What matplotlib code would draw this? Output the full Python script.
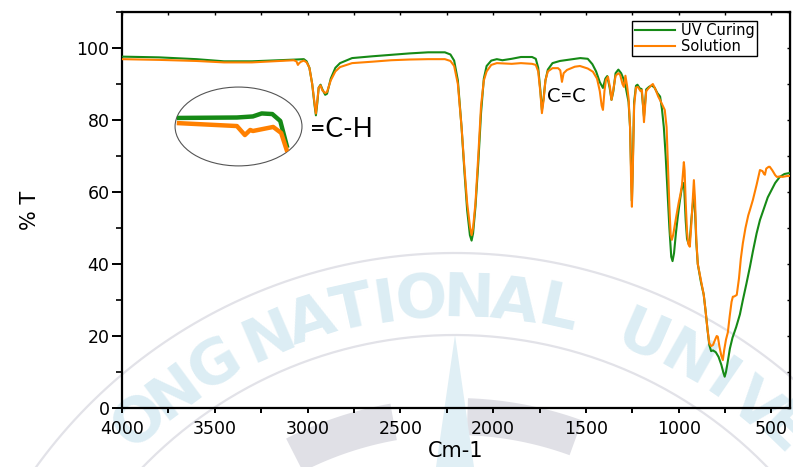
import numpy as np
import matplotlib
matplotlib.use("Agg")
import matplotlib.pyplot as plt
from matplotlib.patches import Ellipse, Polygon
from matplotlib.ticker import MultipleLocator

# ----------------------------------------------------------
# FTIR spectra (%T vs wavenumber)
# ----------------------------------------------------------

wn_uv = [4000, 3800, 3600, 3450, 3300, 3150, 3060, 3020, 3005, 2990, 2975, 2962,
         2955, 2948, 2940, 2930, 2920, 2905, 2895, 2875, 2850, 2825, 2760, 2650,
         2550, 2450, 2350, 2260, 2230, 2210, 2190, 2170, 2155, 2140, 2125, 2116,
         2108, 2095, 2080, 2065, 2050, 2035, 2010, 1980, 1950, 1900, 1850, 1790,
         1770, 1757, 1745, 1737, 1728, 1718, 1705, 1680, 1640, 1600, 1530, 1490,
         1465, 1445, 1425, 1408, 1395, 1385, 1372, 1362, 1352, 1340, 1325, 1310,
         1298, 1285, 1270, 1262, 1256, 1252, 1248, 1240, 1230, 1222, 1210, 1200,
         1192, 1187, 1182, 1175, 1160, 1145, 1130, 1115, 1100, 1090, 1080, 1070,
         1060, 1050, 1040, 1033, 1025, 1015, 1005, 995, 985, 975, 970, 962, 955,
         948, 940, 932, 925, 918, 912, 905, 897, 880, 865, 855, 845, 835, 825,
         815, 800, 785, 770, 760, 752, 745, 735, 724, 710, 690, 670, 654, 635,
         616, 600, 580, 562, 540, 520, 500, 480, 455, 430, 400]
t_uv = [97.6, 97.4, 96.9, 96.3, 96.3, 96.6, 96.8, 96.9, 96.3, 94.5, 90.0, 84.0,
        81.3, 84.5, 89.0, 89.8, 88.5, 87.0, 87.3, 91.5, 94.5, 95.8, 97.2, 97.7,
        98.1, 98.5, 98.8, 98.8, 98.2, 96.5, 91.0, 78.0, 66.0, 55.0, 48.0, 46.5,
        48.5, 56.0, 68.0, 82.0, 91.5, 95.0, 96.5, 96.9, 96.6, 97.0, 97.5, 97.5,
        97.0, 94.5, 88.0, 82.8, 86.0, 91.0, 94.0, 95.8, 96.4, 96.7, 97.2, 97.0,
        95.5, 93.5, 90.5, 88.9, 91.5, 92.2, 89.0, 85.6, 88.0, 93.0, 94.0, 93.0,
        91.5, 89.0, 85.0, 78.0, 65.0, 57.5, 66.0, 85.0, 89.5, 89.8, 88.8, 88.6,
        84.0, 81.0, 84.0, 88.5, 89.2, 89.6, 89.0, 87.5, 86.5, 83.0, 78.0, 70.0,
        60.0, 50.0, 42.0, 40.8, 43.0, 48.5, 53.0, 57.0, 60.5, 62.5, 61.0, 52.0, 47.0,
        45.8, 46.5, 52.0, 56.0, 59.7, 55.0, 46.0, 40.0, 35.0, 31.5, 27.0, 22.0, 17.5, 15.8,
        16.0, 15.5, 14.2, 12.0, 10.0, 8.7, 10.0, 13.0, 16.5, 19.5, 22.5, 26.0, 30.0, 34.5,
        39.2, 43.5, 48.5, 52.2, 55.5, 58.5, 60.5, 62.5, 64.2, 65.0, 65.3]

wn_sol = [4000, 3800, 3600, 3450, 3300, 3150, 3075, 3060, 3052, 3045, 3035, 3020,
          3005, 2990, 2975, 2962, 2955, 2948, 2940, 2930, 2920, 2905, 2895, 2875,
          2850, 2825, 2760, 2650, 2550, 2450, 2350, 2260, 2230, 2210, 2190, 2170,
          2155, 2140, 2125, 2116, 2108, 2095, 2080, 2065, 2050, 2035, 2010, 1980,
          1900, 1850, 1790, 1770, 1757, 1745, 1737, 1728, 1718, 1705, 1680, 1650,
          1638, 1629, 1620, 1602, 1560, 1532, 1490, 1462, 1440, 1425, 1415, 1408,
          1400, 1392, 1381, 1370, 1362, 1352, 1340, 1325, 1315, 1303, 1295, 1287,
          1278, 1270, 1262, 1256, 1252, 1248, 1240, 1230, 1220, 1205, 1198, 1192,
          1187, 1182, 1175, 1166, 1150, 1139, 1125, 1110, 1095, 1075, 1065, 1058,
          1050, 1043, 1037, 1030, 1022, 1012, 1000, 990, 982, 975, 972, 968, 962,
          955, 948, 940, 933, 925, 918, 912, 905, 897, 880, 865, 855, 845, 835,
          825, 815, 805, 795, 789, 780, 770, 762, 755, 745, 735, 725, 715, 708,
          700, 687, 675, 665, 654, 640, 625, 616, 600, 580, 562, 548, 540, 535,
          528, 515, 509, 495, 480, 471, 455, 440, 420, 400]
t_sol = [96.9, 96.7, 96.4, 96.0, 96.0, 96.4, 96.6, 96.3, 95.3, 95.8, 96.2, 96.5,
         96.0, 94.5, 90.0, 84.5, 81.8, 85.0, 89.0, 89.6, 88.2, 87.5, 87.8, 91.0,
         93.5, 94.7, 95.8, 96.2, 96.6, 96.8, 96.9, 96.9, 96.4, 95.0, 90.0, 78.0,
         67.0, 57.0, 50.5, 48.0, 50.0, 57.0, 70.0, 84.0, 91.0, 93.5, 95.3, 95.8,
         95.6, 95.8, 95.6, 95.3, 93.5, 87.5, 81.9, 85.5, 91.0, 93.5, 94.4, 94.4,
         93.8, 90.6, 93.0, 93.9, 94.8, 95.0, 94.3, 93.4, 91.5, 88.0, 84.0, 82.8,
         88.0, 91.1, 92.0, 89.0, 85.6, 88.5, 92.3, 93.0, 92.5, 90.0, 89.2, 92.3,
         89.5, 86.0, 78.0, 62.0, 55.9, 64.0, 84.0, 89.0, 89.2, 88.0, 88.3, 84.0,
         79.4, 83.0, 88.0, 88.6, 89.5, 90.0, 88.5, 86.5, 85.0, 82.8, 78.0, 68.0,
         56.0, 48.0, 46.7, 48.0, 50.5, 53.5, 57.0, 59.5, 62.0, 66.5, 68.3, 66.0, 57.0,
         49.0, 45.5, 44.8, 50.0, 57.0, 63.3, 58.0, 47.0, 40.0, 35.5, 31.5, 27.0, 22.0, 18.0,
         17.2, 17.5, 18.8, 20.0, 19.8, 17.0, 14.5, 13.3, 16.0, 19.0, 21.0, 25.5, 29.5, 30.9,
         31.0, 31.4, 36.0, 41.5, 45.8, 50.0, 53.5, 55.0, 57.8, 62.0, 66.1, 65.8, 65.0, 64.8,
         66.5, 67.0, 67.0, 66.0, 64.7, 64.2, 64.3, 64.2, 64.4, 64.5]

# magnified =C-H region shown inside the ellipse
wn_zoom_uv = [3118, 3050, 3032, 3022, 3010, 3001, 2993]
t_zoom_uv = [96.97, 97.0, 97.07, 97.27, 97.23, 96.77, 94.97]
wn_zoom_sol = [3118, 3050, 3041, 3035, 3032, 3009, 3000, 2993]
t_zoom_sol = [96.63, 96.43, 95.83, 96.17, 96.1, 96.37, 95.97, 94.7]

series_labels = ["UV Curing", "Solution"]
x_ticks = [4000, 3500, 3000, 2500, 2000, 1500, 1000, 500]
y_ticks = [0, 20, 40, 60, 80, 100]

GREEN = "#168a16"
ORANGE = "#ff8000"

W, H = 793, 467


# ----------------------------------------------------------
# background seal watermark (pixel coordinates)
# ----------------------------------------------------------

def draw_watermark(fig):
    wm = fig.add_axes([0, 0, 1, 1], zorder=0)
    wm.set_xlim(0, W)
    wm.set_ylim(H, 0)
    wm.axis("off")

    cx, cy = 455, 770
    th = np.radians(np.linspace(-75, 75, 300))
    for r in (517, 435):
        wm.plot(cx + r * np.sin(th), cy - r * np.cos(th),
                color="#e2e2e8", lw=1.6, zorder=1)

    # grey ring pieces and the compass spike
    for a0, a1 in ((-27, -10), (2, 20)):
        a = np.radians(np.linspace(a0, a1, 40))
        xs = np.concatenate([cx + 372 * np.sin(a), cx + 335 * np.sin(a[::-1])])
        ys = np.concatenate([cy - 372 * np.cos(a), cy - 335 * np.cos(a[::-1])])
        wm.add_patch(Polygon(np.column_stack([xs, ys]), closed=True,
                             facecolor="#e0e0e6", edgecolor="none", zorder=1))
    wm.add_patch(Polygon([[455, 335], [436, 467], [474, 467]], closed=True,
                         facecolor="#e0eff5", edgecolor="none", zorder=1))

    letters = [("O", -42), ("N", -36.5), ("G", -30.6), ("N", -23.2),
               ("A", -17.8), ("T", -12.6), ("I", -8.6), ("O", -4.0),
               ("N", 1.6), ("A", 7.2), ("L", 12.6), ("U", 23.5),
               ("N", 29.5), ("I", 34.5), ("V", 39.5), ("E", 44.0)]
    for ch, ang in letters:
        a = np.radians(ang)
        wm.text(cx + 470 * np.sin(a), cy - 470 * np.cos(a), ch,
                rotation=-ang, ha="center", va="center",
                fontsize=44, fontweight="bold", color="#dcedf4",
                family="DejaVu Sans", zorder=2)


# ----------------------------------------------------------
# main plot
# ----------------------------------------------------------

def main():
    fig = plt.figure(figsize=(W / 100, H / 100), dpi=100)
    draw_watermark(fig)

    ax = fig.add_axes([122 / W, 59 / H, 668 / W, 396 / H], zorder=1)
    ax.patch.set_alpha(0)

    ax.plot(wn_uv, t_uv, color=GREEN, lw=1.5, label=series_labels[0], zorder=3)
    ax.plot(wn_sol, t_sol, color=ORANGE, lw=1.5, label=series_labels[1], zorder=4)

    ax.set_xlim(4000, 400)
    ax.set_ylim(0, 110)
    ax.set_xticks(x_ticks)
    ax.set_yticks(y_ticks)
    ax.xaxis.set_minor_locator(MultipleLocator(250))
    ax.yaxis.set_minor_locator(MultipleLocator(10))

    for s in ax.spines.values():
        s.set_linewidth(1.6)

    ax.tick_params(axis="y", which="major", direction="out", length=7,
                   width=1.4, labelsize=12.5, pad=2)
    ax.tick_params(axis="y", which="minor", direction="out", length=4, width=1.2)
    ax.tick_params(axis="x", which="both", direction="out", length=3.5,
                   width=1.4, labelsize=12.5, pad=5)

    # inward ticks on the top and right edges
    top = ax.secondary_xaxis("top")
    top.set_xticks(x_ticks)
    top.xaxis.set_minor_locator(MultipleLocator(250))
    top.tick_params(which="both", direction="in", length=2.5, width=1.0,
                    labeltop=False)
    right = ax.secondary_yaxis("right")
    right.set_yticks(y_ticks)
    right.yaxis.set_minor_locator(MultipleLocator(10))
    right.tick_params(which="both", direction="in", length=2.5, width=1.0,
                      labelright=False)

    ax.set_xlabel("Cm-1", fontsize=15, labelpad=2)
    ax.set_ylabel("% T", fontsize=15, labelpad=26)

    # band labels
    ax.text(2985, 77.3, "=C-H", fontsize=19, family="Lato",
            ha="left", va="center")
    ax.text(1707, 86.5, "C=C", fontsize=14.5, family="Lato",
            ha="left", va="center")

    # ellipse with magnified detail
    ell = Ellipse((3372, 78.2), 684, 21.9, facecolor="none",
                  edgecolor="#555555", lw=0.8, zorder=5)
    ax.add_patch(ell)

    ins = fig.add_axes([175 / W, (H - 155) / H, 115 / W, 45 / H], zorder=2)
    ins.set_xlim(3120, 2990)
    ins.set_ylim(94.5, 97.5)
    ins.axis("off")
    ins.patch.set_alpha(0)
    l1, = ins.plot(wn_zoom_uv, t_zoom_uv, color=GREEN, lw=3.2,
                   solid_capstyle="butt")
    l2, = ins.plot(wn_zoom_sol, t_zoom_sol, color=ORANGE, lw=3.2,
                   solid_capstyle="butt")
    for ln in (l1, l2):
        ln.set_clip_path(ell)

    leg = ax.legend(loc="upper right", bbox_to_anchor=(0.951, 0.977),
                    fontsize=10.5, frameon=True, fancybox=False,
                    edgecolor="black", framealpha=1, borderpad=0.15,
                    labelspacing=0.05, handlelength=2.8, handletextpad=0.4,
                    borderaxespad=0)
    leg.get_frame().set_linewidth(1.0)

    fig.savefig("out.png", dpi=100)


if __name__ == "__main__":

    main()
